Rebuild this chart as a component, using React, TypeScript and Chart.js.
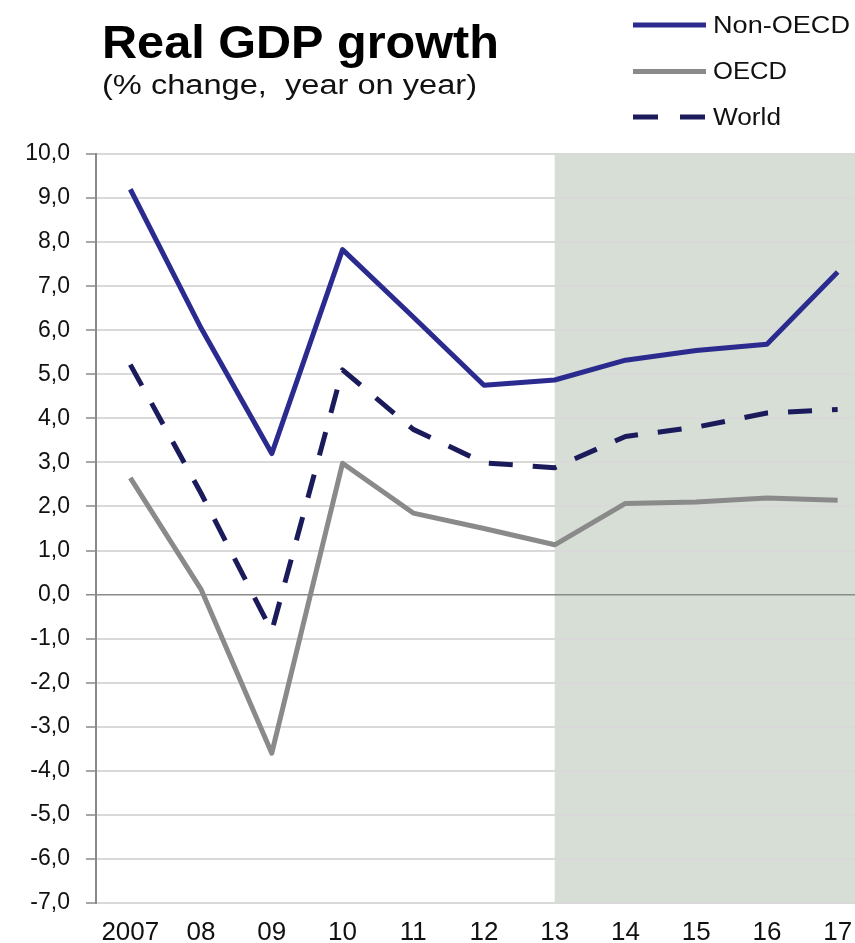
import React, { useEffect, useRef } from "react";
import { Chart, registerables } from "chart.js";

Chart.register(...registerables);

const years = ["2007", "08", "09", "10", "11", "12", "13", "14", "15", "16", "17"];
const nonOecd = [9.2, 6.05, 3.2, 7.83, 6.3, 4.75, 4.87, 5.32, 5.54, 5.68, 7.32];
const oecd = [2.65, 0.12, -3.6, 2.98, 1.85, 1.5, 1.13, 2.07, 2.1, 2.19, 2.14];
const world = [5.22, 2.3, -0.83, 5.1, 3.75, 2.99, 2.88, 3.59, 3.8, 4.12, 4.2];
const yMin = -7;
const yMax = 10;
const forecastStartIndex = 6; // "13"

const titleText = "Real GDP growth";
const subtitleText = "(% change,  year on year)";
const seriesNames = ["Non-OECD", "OECD", "World"];

const NON_OECD_COLOR = "#2b2b8f";
const OECD_COLOR = "#8a8a8a";
const WORLD_COLOR = "#1b1b5c";
const SHADE_COLOR = "#d6ded6";
const FONT = "'Liberation Sans', Arial, sans-serif";

function drawStretched(
  ctx: CanvasRenderingContext2D,
  text: string,
  x: number,
  y: number,
  font: string,
  color: string,
  targetWidth: number
) {
  ctx.save();
  ctx.font = font;
  const w = ctx.measureText(text).width;
  const sx = w > 0 ? targetWidth / w : 1;
  ctx.translate(x, y);
  ctx.scale(sx, 1);
  ctx.fillStyle = color;
  ctx.textAlign = "left";
  ctx.textBaseline = "alphabetic";
  ctx.fillText(text, 0, 0);
  ctx.restore();
}

const shadePlugin = {
  id: "shade",
  beforeDraw(chart: any) {
    const { ctx, chartArea, scales } = chart;
    const x0 = scales.x.getPixelForValue(forecastStartIndex);
    ctx.save();
    ctx.fillStyle = SHADE_COLOR;
    ctx.fillRect(x0, chartArea.top, chartArea.right - x0, chartArea.bottom - chartArea.top);
    ctx.restore();
  },
};

const textPlugin = {
  id: "texts",
  afterDraw(chart: any) {
    const ctx: CanvasRenderingContext2D = chart.ctx;
    drawStretched(ctx, titleText, 102, 58, `bold 46px ${FONT}`, "#000", 397);
    drawStretched(ctx, subtitleText, 102, 94, `27px ${FONT}`, "#111", 375);

    const legend = [
      { name: seriesNames[0], color: NON_OECD_COLOR, dash: [] as number[], y: 25, tw: 137 },
      { name: seriesNames[1], color: OECD_COLOR, dash: [] as number[], y: 71.5, tw: 74 },
      { name: seriesNames[2], color: WORLD_COLOR, dash: [25, 22], y: 117, tw: 68 },
    ];
    legend.forEach((l) => {
      ctx.save();
      ctx.strokeStyle = l.color;
      ctx.lineWidth = 5;
      ctx.lineCap = "butt";
      ctx.setLineDash(l.dash);
      ctx.beginPath();
      ctx.moveTo(633, l.y);
      ctx.lineTo(706, l.y);
      ctx.stroke();
      ctx.restore();
      drawStretched(ctx, l.name, 713, l.y + 7.5, `23px ${FONT}`, "#111", l.tw);
    });
  },
};

export default function App() {
  const canvasRef = useRef<HTMLCanvasElement | null>(null);

  useEffect(() => {
    if (!canvasRef.current) return;
    const toPts = (arr: number[]) => arr.map((v, i) => ({ x: i, y: v }));
    const chart = new Chart(canvasRef.current, {
      type: "line",
      data: {
        datasets: [
          {
            label: seriesNames[0],
            data: toPts(nonOecd),
            borderColor: NON_OECD_COLOR,
            borderWidth: 5,
            pointRadius: 0,
            tension: 0,
            borderJoinStyle: "round",
          },
          {
            label: seriesNames[1],
            data: toPts(oecd),
            borderColor: OECD_COLOR,
            borderWidth: 5,
            pointRadius: 0,
            tension: 0,
            borderJoinStyle: "round",
          },
          {
            label: seriesNames[2],
            data: toPts(world),
            borderColor: WORLD_COLOR,
            borderWidth: 5,
            borderDash: [24, 20],
            pointRadius: 0,
            tension: 0,
            borderJoinStyle: "round",
          },
        ],
      },
      options: {
        responsive: false,
        animation: false,
        events: [],
        layout: { padding: { top: 154, left: 0, right: 0, bottom: 0 } },
        plugins: {
          legend: { display: false },
          title: { display: false },
          tooltip: { enabled: false },
        },
        scales: {
          x: {
            type: "linear",
            min: -0.485,
            max: 10.245,
            afterBuildTicks: (axis: any) => {
              axis.ticks = years.map((_, i) => ({ value: i }));
            },
            afterFit: (s: any) => {
              s.height = 40;
              s.paddingLeft = 0;
              s.paddingRight = 0;
            },
            grid: { display: false, drawTicks: false },
            border: { display: true, color: "#d9d9d9", width: 2 },
            ticks: {
              autoSkip: false,
              maxRotation: 0,
              padding: 14,
              color: "#111",
              font: { family: FONT, size: 26 },
              callback: (v: any) => years[v as number] ?? "",
            },
          },
          y: {
            min: yMin,
            max: yMax,
            afterFit: (s: any) => {
              s.width = 96;
              s.paddingTop = 0;
              s.paddingBottom = 0;
            },
            grid: {
              color: (c: any) => (c.tick && c.tick.value === 0 ? "#8a8a8a" : "#d9d9d9"),
              lineWidth: (c: any) => (c.tick && c.tick.value === 0 ? 1.5 : 2),
              tickColor: "#8a8a8a",
              tickWidth: 1.5,
              tickLength: 10,
            },
            border: { display: true, color: "#8a8a8a", width: 2 },
            ticks: {
              stepSize: 1,
              padding: 16,
              color: "#111",
              font: { family: FONT, size: 23 },
              callback: (v: any) => Number(v).toFixed(1).replace(".", ","),
            },
          },
        },
      },
      plugins: [shadePlugin, textPlugin],
    } as any);
    return () => chart.destroy();
  }, []);

  return (
    <div style={{ position: "absolute", left: 0, top: 0, width: 855, height: 943, background: "#fff" }}>
      <canvas ref={canvasRef} width={855} height={943} style={{ display: "block" }} />
    </div>
  );
}
